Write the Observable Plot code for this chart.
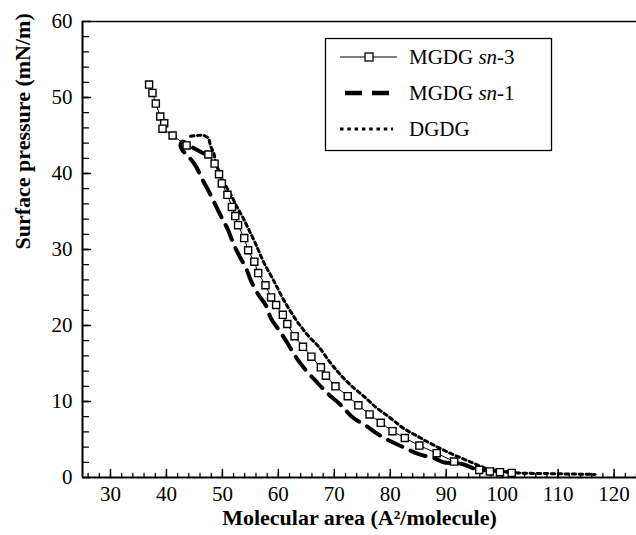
<!DOCTYPE html>
<html><head><meta charset="utf-8">
<script src="https://cdn.jsdelivr.net/npm/d3@7"></script>
<script src="https://cdn.jsdelivr.net/npm/@observablehq/plot@0.6"></script>
<style>body{margin:0;background:#fff}</style>
</head><body><div id="chart"></div>
<script>
const sn3Area = [36.9,37.5,38.1,38.9,39.6,39.3,41.1,43.6,47.5,48.6,49.4,49.9,50.9,51.7,52.3,52.8,53.9,54.6,55.7,56.4,57.7,58.7,59.6,60.8,61.6,62.9,64.4,65.9,67.6,68.5,70.2,72.4,74.3,76.3,78.3,80.4,82.6,85.2,88.3,91.4,95.9,97.8,99.6,101.7];
const sn3Pressure = [51.7,50.6,49.2,47.5,46.6,45.9,45.0,43.7,42.5,41.3,39.9,38.7,37.2,35.6,34.4,33.2,31.5,29.9,28.4,26.9,25.3,23.7,22.7,21.4,20.2,18.6,17.2,15.9,14.5,13.4,12.0,10.7,9.5,8.3,7.2,6.1,5.2,4.2,3.2,2.1,1.0,0.8,0.7,0.6];

const sn1Area = [47.3,45.5,44.0,42.9,42.5,42.8,43.4,44.1,45.3,46.5,47.6,48.8,50.0,51.0,52.0,53.0,54.3,55.1,56.3,57.8,58.7,60.2,61.7,62.9,64.7,66.8,68.9,71.2,73.3,75.7,77.8,80.5,82.3,85.0,88.0,89.5,92.7,95.4,99.0,101.1];
const sn1Pressure = [42.4,43.1,43.7,44.2,43.7,43.1,42.6,42.1,40.9,39.1,37.6,35.8,34.0,32.6,30.7,29.2,27.4,25.9,24.2,22.6,20.9,19.3,17.6,16.1,14.3,12.6,11.0,9.5,7.9,6.8,5.7,4.6,4.0,3.1,2.5,2.0,1.8,1.1,0.9,0.7];

const dgdgArea = [44.3,45.5,46.7,47.5,47.9,48.5,48.8,49.6,50.5,51.6,52.6,53.6,54.6,55.9,57.4,59.1,61.0,63.3,65.4,67.1,69.3,71.0,73.0,75.4,77.5,79.9,82.3,84.7,87.4,90.4,94.5,97.5,100.0,102.9,109.5,116.6];
const dgdgPressure = [44.9,45.0,45.0,44.6,43.6,42.6,41.4,40.0,38.5,37.1,35.6,34.3,32.8,30.8,28.3,26.0,23.3,20.6,18.6,17.3,15.1,13.6,12.1,10.6,9.2,7.9,6.5,5.5,4.4,3.3,2.0,1.1,0.8,0.6,0.5,0.4];

const xTickLabels = [30,40,50,60,70,80,90,100,110,120];
const yTickLabels = [0,10,20,30,40,50,60];
const xMinorTicks = d3.range(26, 124.1, 2);
const yMinorTicks = d3.range(2, 60, 2);
const xTitle = "Molecular area (A\u00B2/molecule)";
const yTitle = "Surface pressure (mN/m)";
const legendNames = ["MGDG sn-3", "MGDG sn-1", "DGDG"];

const toRows = (xs, ys) => xs.map((x, i) => ({x, y: ys[i]}));
const sn3 = toRows(sn3Area, sn3Pressure);
const sn1 = toRows(sn1Area, sn1Pressure);
const dgdg = toRows(dgdgArea, dgdgPressure);

const font = "'Liberation Serif', 'Times New Roman', serif";

// inward ticks drawn as headless vectors (r: 0 removes the arrow wings)
const xTicks = (vals, len, sw) => Plot.vector(vals, {x: d => d, y: 0, length: len, r: 0, anchor: "start", rotate: 0, stroke: "#000", strokeWidth: sw});
const yTicks = (vals, len, sw) => Plot.vector(vals, {x: 25, y: d => d, length: len, r: 0, anchor: "start", rotate: 90, stroke: "#000", strokeWidth: sw});

const chart = Plot.plot({
  width: 636,
  height: 535,
  marginLeft: 82,
  marginRight: 0,
  marginTop: 21,
  marginBottom: 58,
  style: {fontFamily: font, fontSize: "21px", background: "#fff", color: "#000"},
  x: {domain: [25, 124], axis: null},
  y: {domain: [0, 60], axis: null},
  marks: [
    xTicks(xMinorTicks, 4, 1.3),
    yTicks(yMinorTicks, 6, 1.3),
    xTicks(xTickLabels, 8, 1.5),
    yTicks(yTickLabels, 8, 1.5),
    Plot.text(xTickLabels, {x: d => d, y: 0, dy: 17, text: d => String(d), fontFamily: font, fontSize: 21, fill: "#000", lineAnchor: "middle"}),
    Plot.text(yTickLabels, {x: 25, y: d => d, dx: -10, text: d => String(d), textAnchor: "end", fontFamily: font, fontSize: 21, fill: "#000", lineAnchor: "middle"}),
    // frame lines
    Plot.ruleY([0], {strokeWidth: 2, stroke: "#000"}),
    Plot.ruleY([60], {strokeWidth: 1.5, stroke: "#000"}),
    Plot.ruleX([25], {strokeWidth: 2, stroke: "#000"}),
    // series
    Plot.line(dgdg, {x: "x", y: "y", stroke: "#000", strokeWidth: 3, strokeDasharray: "3.5,3.5", curve: "catmull-rom"}),
    Plot.line(sn1, {x: "x", y: "y", stroke: "#000", strokeWidth: 4, strokeDasharray: "16,9", curve: "catmull-rom"}),
    Plot.line(sn3, {x: "x", y: "y", stroke: "#000", strokeWidth: 1}),
    Plot.dot(sn3, {x: "x", y: "y", symbol: "square", r: 4, fill: "#fff", stroke: "#000", strokeWidth: 1.4}),
    // axis titles
    Plot.text([yTitle], {frameAnchor: "left", dx: -60, rotate: -90, fontWeight: "bold", fontSize: 22, fontFamily: font, fill: "#000", lineAnchor: "middle"}),
    Plot.text([xTitle], {frameAnchor: "bottom", dy: 40, fontWeight: "bold", fontSize: 22, fontFamily: font, fill: "#000", lineAnchor: "middle"})
  ]
});
document.getElementById("chart").appendChild(chart);

// legend
const svg = d3.select(chart);
const lg = svg.append("g").style("font-family", font).style("font-size", "21px").attr("text-anchor", "start");
lg.append("rect").attr("x", 325.5).attr("y", 38.5).attr("width", 226).attr("height", 112)
  .attr("fill", "#fff").attr("stroke", "#000").attr("stroke-width", 1.3);
const rowsY = [57, 93, 129];
lg.append("line").attr("x1", 340).attr("x2", 397).attr("y1", rowsY[0]).attr("y2", rowsY[0]).attr("stroke", "#000").attr("stroke-width", 1);
lg.append("rect").attr("x", 365).attr("y", rowsY[0] - 4).attr("width", 8).attr("height", 8).attr("fill", "#fff").attr("stroke", "#000").attr("stroke-width", 1.3);
lg.append("line").attr("x1", 345).attr("x2", 389).attr("y1", rowsY[1]).attr("y2", rowsY[1]).attr("stroke", "#000").attr("stroke-width", 4.5).attr("stroke-dasharray", "17,10");
lg.append("line").attr("x1", 340).attr("x2", 393).attr("y1", rowsY[2]).attr("y2", rowsY[2]).attr("stroke", "#000").attr("stroke-width", 3).attr("stroke-dasharray", "3.5,3.8");
legendNames.forEach((name, i) => {
  const t = lg.append("text").attr("x", 409).attr("y", rowsY[i]).attr("dy", "0.35em").attr("fill", "#000").attr("text-anchor", "start");
  const m = name.match(/^(MGDG )(sn)(-\d)$/);
  if (m) {
    t.append("tspan").text(m[1]);
    t.append("tspan").attr("font-style", "italic").text(m[2]);
    t.append("tspan").text(m[3]);
  } else {
    t.text(name);
  }
});
</script>
</body></html>
